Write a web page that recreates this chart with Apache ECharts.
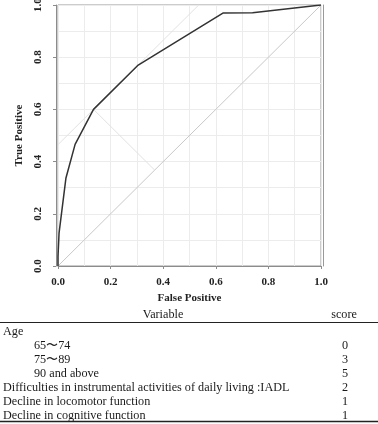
<!DOCTYPE html>
<html><head><meta charset="utf-8">
<script src="https://cdn.jsdelivr.net/npm/echarts@6/dist/echarts.min.js"></script>
<style>html,body{margin:0;padding:0;background:#fff}#c{width:378px;height:424px}</style>
</head><body><div id="c"></div>
<script>
// ROC curve (False Positive rate, True Positive rate)
const rocFpr = [0, 0, 0.004, 0.03, 0.065, 0.135, 0.305, 0.627, 0.74, 1];
const rocTpr = [0, 0.036, 0.126, 0.336, 0.466, 0.6, 0.77, 0.969, 0.97, 1];
// reference diagonal
const diagX = [0, 1];
const diagY = [0, 1];
// Youden tangent line and perpendicular to the diagonal
const tangentX = [0, 0.535];
const tangentY = [0.465, 1];
const perpX = [0.135, 0.3675];
const perpY = [0.6, 0.3675];
// table
const tableHeader = ['Variable', 'score'];
const variables = ['Age', '65〜74', '75〜89', '90 and above',
  'Difficulties in instrumental activities of daily living :IADL',
  'Decline in locomotor function', 'Decline in cognitive function'];
const indented = [false, true, true, true, false, false, false];
const scores = ['', '0', '3', '5', '2', '1', '1'];

const zip = (a, b) => a.map((v, i) => [v, b[i]]);
const chart = echarts.init(document.getElementById('c'), null, {renderer: 'canvas'});
const serif = '"Liberation Serif","Times New Roman",serif';
const axisGrey = '#8c8c8c';

const lblStyle = {fontFamily: serif, fontWeight: 'bold', fontSize: 11, color: '#222'};

const graphics = [];
const rowTop = 332, rowStep = 14;
const tFont = '12.2px ' + serif;
graphics.push({type: 'text', style: {text: tableHeader[0], x: 163, y: 315, align: 'center', verticalAlign: 'middle', font: tFont, fill: '#1a1a1a'}});
graphics.push({type: 'text', style: {text: tableHeader[1], x: 344, y: 315, align: 'center', verticalAlign: 'middle', font: tFont, fill: '#1a1a1a'}});
graphics.push({type: 'line', shape: {x1: 0, y1: 322.5, x2: 378, y2: 322.5}, style: {stroke: '#222', lineWidth: 1.2}});
variables.forEach((v, i) => {
  graphics.push({type: 'text', style: {text: v, x: indented[i] ? 34 : 3, y: rowTop + i * rowStep, align: 'left', verticalAlign: 'middle', font: tFont, fill: '#1a1a1a'}});
  if (scores[i]) graphics.push({type: 'text', style: {text: scores[i], x: 345, y: rowTop + i * rowStep, align: 'center', verticalAlign: 'middle', font: tFont, fill: '#1a1a1a'}});
});
graphics.push({type: 'line', shape: {x1: 0, y1: 421.5, x2: 378, y2: 421.5}, style: {stroke: '#222', lineWidth: 1.5}});

chart.setOption({
  animation: false,
  backgroundColor: '#fff',
  grid: {left: 58, top: 5, width: 263, height: 261, containLabel: false, outerBoundsMode: 'none',
         show: true, borderColor: '#999', borderWidth: 1, backgroundColor: 'transparent'},
  xAxis: [
    {
      type: 'value', min: 0, max: 1, interval: 0.2, position: 'bottom',
      name: 'False Positive', nameLocation: 'middle', nameGap: 23,
      nameTextStyle: lblStyle,
      axisLine: {show: true, onZero: false, lineStyle: {color: axisGrey, width: 1}},
      axisTick: {show: true, length: 3, lineStyle: {color: axisGrey}},
      axisLabel: Object.assign({margin: 11, formatter: v => v.toFixed(1)}, lblStyle),
      splitLine: {show: true, lineStyle: {color: '#ececec', width: 1}},
      minorTick: {show: false, splitNumber: 2},
      minorSplitLine: {show: true, lineStyle: {color: '#ececec', width: 1}}
    }
  ],
  yAxis: [
    {
      type: 'value', min: 0, max: 1, interval: 0.2, position: 'left', offset: 2,
      name: 'True Positive', nameLocation: 'middle', nameGap: 25, nameRotate: 90,
      nameTextStyle: lblStyle,
      axisLine: {show: true, onZero: false, lineStyle: {color: axisGrey, width: 1}},
      axisTick: {show: true, length: 3, lineStyle: {color: axisGrey}},
      axisLabel: Object.assign({margin: 12, rotate: 90, formatter: v => v.toFixed(1)}, lblStyle),
      splitLine: {show: true, lineStyle: {color: '#ececec', width: 1}},
      minorTick: {show: false, splitNumber: 2},
      minorSplitLine: {show: true, lineStyle: {color: '#ececec', width: 1}}
    },
    {
      type: 'value', min: 0, max: 1, interval: 0.2, position: 'right', offset: 2,
      axisLabel: {show: false}, axisTick: {show: false}, splitLine: {show: false},
      axisLine: {show: true, onZero: false, lineStyle: {color: '#999', width: 1}}
    }
  ],
  series: [
    {type: 'line', data: zip(diagX, diagY), symbol: 'none', lineStyle: {color: '#c8c8c8', width: 1}, silent: true},
    {type: 'line', data: zip(tangentX, tangentY), symbol: 'none', lineStyle: {color: '#e2e2e2', width: 1}, silent: true},
    {type: 'line', data: zip(perpX, perpY), symbol: 'none', lineStyle: {color: '#e2e2e2', width: 1}, silent: true},
    {type: 'line', data: zip(rocFpr, rocTpr), symbol: 'none', lineStyle: {color: '#333', width: 1.5}, silent: true}
  ],
  graphic: graphics
});
</script></body></html>
